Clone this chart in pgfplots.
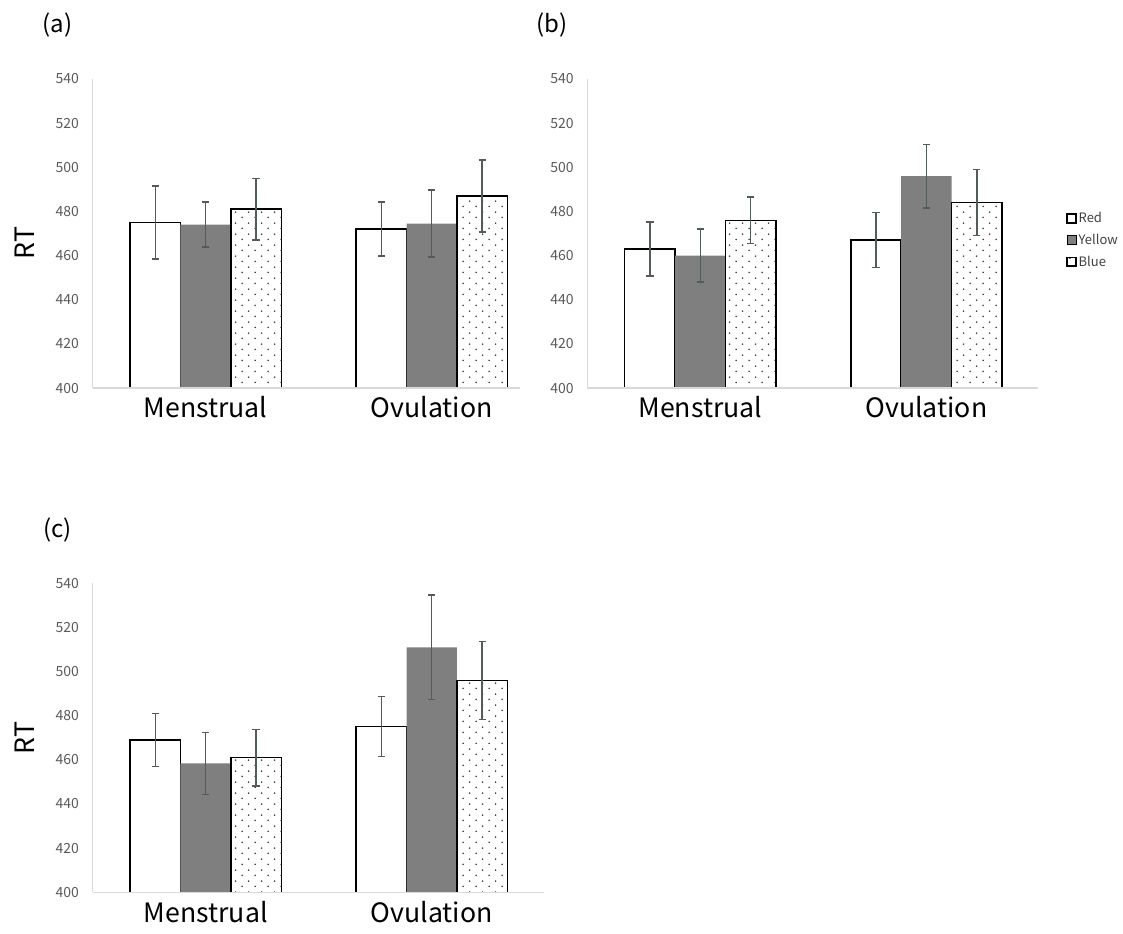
\documentclass[border=0pt]{standalone}
\usepackage{pgfplots}
\pgfplotsset{compat=1.18}
\usepackage{fontspec}
\setmainfont{Noto Sans CJK JP}
\usetikzlibrary{patterns.meta}
\definecolor{tickgrey}{HTML}{595959}
\definecolor{axisgrey}{HTML}{D9D9D9}
\definecolor{bargrey}{HTML}{7F7F7F}
\definecolor{errgrey}{HTML}{545B5B}
\definecolor{leggrey}{HTML}{404040}
\definecolor{dotgrey}{HTML}{333333}

\tikzdeclarepattern{
  name=sparsedots,
  type=uncolored,
  bounding box={(0pt,0pt) and (10pt,8.4pt)},
  tile size={(10pt,8.4pt)},
  code={
    \fill (2.5pt,2.1pt) circle (0.7pt);
    \fill (7.5pt,6.3pt) circle (0.7pt);
  }
}

\pgfplotsset{
  panel/.style={
    scale only axis,
    height=231.75pt,
    ymin=400, ymax=540,
    ytick={400,420,...,540},
    xmin=-0.5,
    xtick={0,1},
    xticklabels={Menstrual,Ovulation},
    axis x line*=bottom, axis y line*=left,
    axis line style={-, draw=axisgrey},
    x axis line style={line width=1.1pt},
    y axis line style={line width=0.75pt},
    major tick length=0pt,
    tick style={draw=none},
    yticklabel style={font=\fontsize{10.5}{12}\selectfont, text=tickgrey},
    xticklabel style={font=\fontsize{20}{24}\selectfont, text=black},
    yticklabel shift=6.8pt,
    xticklabel shift=3pt,
    /pgf/number format/assume math mode=true,
    axis on top,
    anchor=south west,
  },
  barbase/.style={ybar, bar width=0.223, bar shift=0,
    error bars/y dir=both, error bars/y explicit,
    error bars/error bar style={errgrey, line width=1.1pt},
    error bars/error mark options={rotate=90, mark size=2.7pt, errgrey, line width=1.1pt},
  },
  sqlegend/.style={legend image code/.code={\draw[##1] (0pt,-3.3pt) rectangle (6.6pt,3.3pt);}},
  redbar/.style={barbase, draw=black, fill=white, line width=1.1pt, sqlegend},
  yellowbar/.style={barbase, draw=none, fill=bargrey, sqlegend},
  bluebar/.style={barbase, draw=black, line width=1.1pt, pattern={sparsedots}, pattern color=dotgrey, sqlegend},
}

\begin{document}
\begin{tikzpicture}
\path[use as bounding box] (0pt,0pt) rectangle (842.25pt,-699.75pt);

\node[font=\fontsize{18}{22}\selectfont] at (43pt,-19.1pt) {(a)};
\node[font=\fontsize{18}{22}\selectfont] at (414pt,-19.1pt) {(b)};
\node[font=\fontsize{18}{22}\selectfont] at (43pt,-397.5pt) {(c)};

% (a)
\begin{axis}[panel, at={(69.5pt,-291pt)}, width=320.4pt, xmax=1.39,
  ylabel={RT}, every axis y label/.style={at={(axis description cs:-0.158,0.47)}, rotate=90, anchor=center, font=\fontsize{20}{24}\selectfont}]
\addplot[redbar] coordinates {(-0.223,475) +- (0,16.6) (0.777,472) +- (0,12.2)};
\addplot[yellowbar] coordinates {(0,474) +- (0,10.2) (1,474.5) +- (0,15.2)};
\addplot[bluebar] coordinates {(0.223,481) +- (0,14) (1.223,487) +- (0,16.4)};
\end{axis}

% (b)
\begin{axis}[panel, at={(440.5pt,-291pt)}, width=338.2pt, xmax=1.495,
  legend style={at={(1.0617,0.576)}, anchor=north west, draw=none, fill=none,
    font=\fontsize{9.75}{11}\selectfont, text=leggrey, row sep=4pt, inner sep=0pt,
    nodes={inner sep=1.5pt}},
  legend cell align=left]
\addplot[redbar] coordinates {(-0.223,463) +- (0,12.2) (0.777,467) +- (0,12.4)};
\addplot[yellowbar] coordinates {(0,460) +- (0,12) (1,496) +- (0,14.4)};
\addplot[bluebar] coordinates {(0.223,476) +- (0,10.6) (1.223,484) +- (0,15)};
\legend{Red,Yellow,Blue}
\end{axis}

% (c)
\begin{axis}[panel, at={(69.5pt,-669.2pt)}, width=338.2pt, xmax=1.495,
  ylabel={RT}, every axis y label/.style={at={(axis description cs:-0.150,0.50)}, rotate=90, anchor=center, font=\fontsize{20}{24}\selectfont}]
\addplot[redbar] coordinates {(-0.223,469) +- (0,11.9) (0.777,475) +- (0,13.6)};
\addplot[yellowbar] coordinates {(0,458.4) +- (0,14) (1,511) +- (0,23.7)};
\addplot[bluebar] coordinates {(0.223,461) +- (0,12.8) (1.223,496) +- (0,17.7)};
\end{axis}
\end{tikzpicture}
\end{document}
